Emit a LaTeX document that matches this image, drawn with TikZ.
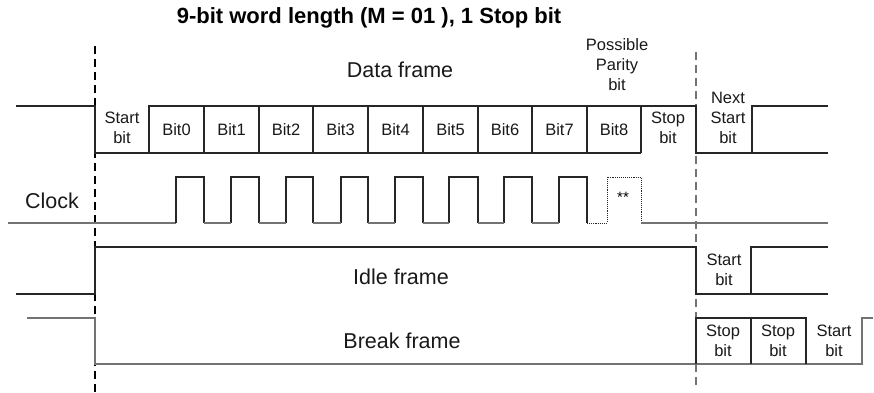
\documentclass[tikz,border=0pt]{standalone}
\usepackage{fontspec}
\setmainfont{Liberation Sans}
\begin{document}
\begin{tikzpicture}[x=1pt,y=-1pt,
  wave/.style={line width=1.1pt, draw=black!85},
  wavegray/.style={line width=1.1pt, draw=black!55},
  dashline/.style={line width=1.3pt, dash pattern=on 8pt off 5pt},
  big/.style={font=\fontsize{21.5}{24}\selectfont, text=black!90, inner sep=0pt},
  small/.style={font=\fontsize{16.5}{20}\selectfont, text=black!90, align=center, inner sep=0pt},
  ttl/.style={font=\bfseries\fontsize{22}{24}\selectfont, inner sep=0pt}]
\useasboundingbox (0,0) rectangle (874,392);
% dashed separators
\draw[dashline, draw=black] (95,46) -- (95,392);
\draw[dashline, draw=black!55, line width=1.1pt] (696,52) -- (696,388);
% title and labels
\node[ttl] (title) at (369,18) {9-bit word length (M = 01 ), 1 Stop bit};
\node[big] (dataframe) at (400,70) {Data frame};
\node[small] (parity) at (617,65) {Possible\\Parity\\bit};
\node[small] (nextstart) at (728,118) {Next\\Start\\bit};
% data frame waveform
\draw[wave] (16,106) -- (95,106) -- (95,153) -- (641,153);
\draw[wave] (149,153) -- (149,106) -- (696,106) -- (696,153) -- (828,153);
\draw[wave] (752,153) -- (752,106) -- (828,106);
\foreach \x in {204,259,313,368,423,478,532,587,641} \draw[wave] (\x,106) -- (\x,153);
\node[small] (startbit) at (122,128) {Start\\bit};
\foreach \i/\c in {0/176.5,1/231.5,2/286,3/340.5,4/395.5,5/450.5,6/505,7/559.5,8/614}
  \node[small] (bit\i) at (\c,130) {Bit\i};
\node[small] (stopbit) at (668,128) {Stop\\bit};
% clock
\node[big] (clock) at (52,201) {Clock};
\draw[wavegray] (8,223) -- (176,223);
\foreach \r/\f in {176/204,231/259,286/313,341/368,395/423,449/478,504/532,559/587}
  \draw[wave] (\r,223) -- (\r,177) -- (\f,177) -- (\f,223);
\foreach \a/\b in {204/231,259/286,313/341,368/395,423/449,478/504,532/559}
  \draw[wavegray] (\a,223) -- (\b,223);
\draw[wave, densely dotted, line width=1pt] (587,223) -- (607,223) -- (607,177) -- (641,177) -- (641,223);
\node[font=\fontsize{15}{15}\selectfont, inner sep=0pt] (stars) at (623,197) {**};
\draw[wavegray] (641,223) -- (828,223);
% idle frame
\draw[wave] (16,294) -- (95,294) -- (95,247) -- (696,247) -- (696,294) -- (828,294);
\draw[wave] (751,294) -- (751,247) -- (828,247);
\node[big] (idle) at (401,277) {Idle frame};
\node[small] (idlestart) at (724,270) {Start\\bit};
% break frame
\draw[wavegray] (27,318) -- (95,318) -- (95,364) -- (862,364) -- (862,318) -- (873,318);
\draw[wave] (696,364) -- (696,318) -- (806,318) -- (806,364);
\draw[wave] (751,318) -- (751,364);
\node[big] (break) at (402,341) {Break frame};
\node[small] (stop1) at (723,341) {Stop\\bit};
\node[small] (stop2) at (778,341) {Stop\\bit};
\node[small] (start2) at (834,341) {Start\\bit};
\end{tikzpicture}
\end{document}
